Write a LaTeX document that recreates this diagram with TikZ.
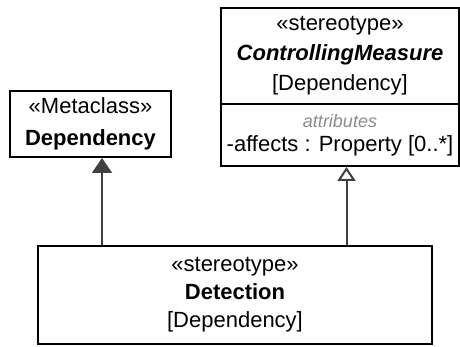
\documentclass[tikz,border=0pt]{standalone}
\usepackage{fontspec}
\setmainfont{Liberation Sans}
\usepackage{tikz}
\usetikzlibrary{arrows.meta, positioning, calc}
\definecolor{lineGray}{HTML}{404040}
\definecolor{attrGray}{HTML}{8C8C8C}

\begin{document}
\begin{tikzpicture}[
    x=0.5pt, y=-0.5pt,
    box/.style={draw, line width=1pt, anchor=north west, inner sep=0pt, align=center, font=\fontsize{11}{14}\selectfont},
    extends/.style={-{Triangle[length=7.5pt, width=10pt]}, line width=1pt, draw=lineGray, fill=lineGray},
    realizes/.style={-{Triangle[open, length=7pt, width=9pt]}, line width=1pt, draw=lineGray},
]
    \useasboundingbox (0,0) rectangle (460,347);

    \node[box, minimum width=80.5pt, minimum height=33pt] (meta) at (9,90)
        {\guillemotleft Metaclass\guillemotright\\[2pt]\textbf{Dependency}};
    \node[box, minimum width=119pt, minimum height=48pt, font=\fontsize{11}{15}\selectfont] (cmhead) at (220,7)
        {\guillemotleft stereotype\guillemotright\\\textbf{\textit{ControllingMeasure}}\\{[Dependency]}};
    \node[box, minimum width=119pt, minimum height=31pt, font=\fontsize{11}{12}\selectfont] (cmattr) at (220,103)
        {{\fontsize{9}{10}\selectfont\color{attrGray}\textit{attributes}}\\-affects : Property [0..*]};
    \node[box, minimum width=197pt, minimum height=49pt] (det) at (37,245)
        {\guillemotleft stereotype\guillemotright\\\textbf{Detection}\\{[Dependency]}};

    \draw[extends] ($(det.north west)+(65,0)$) -- ($(meta.south west)+(93,0)$);
    \draw[realizes] ($(det.north west)+(309.5,0)$) -- ($(cmattr.south west)+(126.5,0)$);
\end{tikzpicture}
\end{document}
